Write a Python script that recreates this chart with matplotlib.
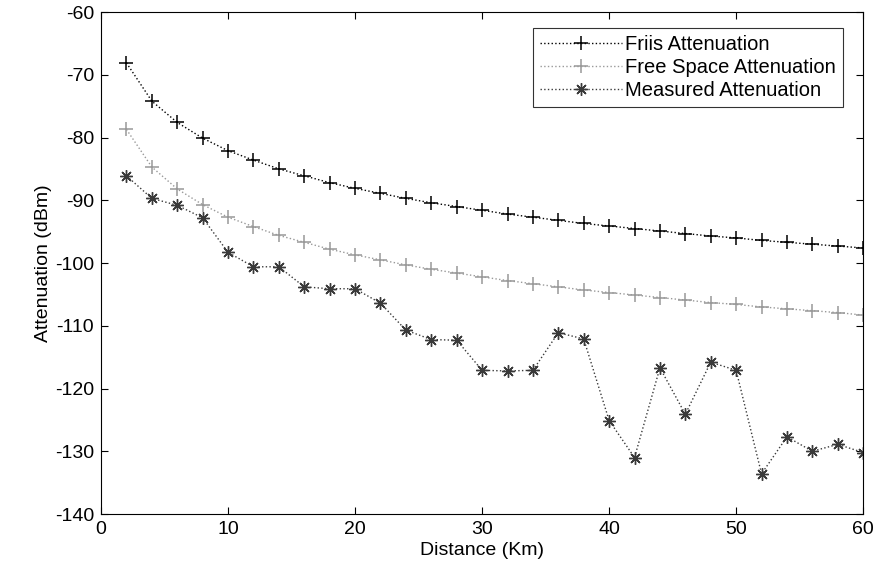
"""Atenuacion frente a distancia"""

import matplotlib
matplotlib.use('Agg')
import matplotlib.pyplot as plt

plt.rcParams['font.family'] = ['Liberation Sans', 'DejaVu Sans']
plt.rcParams['axes.unicode_minus'] = False

distancia = list(range(2, 61, 2))

friis = [-68.1, -74.2, -77.6, -80.1, -82.1, -83.6, -85.0, -86.1, -87.2, -88.1,
         -88.9, -89.7, -90.4, -91.0, -91.6, -92.2, -92.7, -93.2, -93.7, -94.1,
         -94.5, -94.9, -95.3, -95.7, -96.0, -96.4, -96.7, -97.0, -97.3, -97.6]

espacio_libre = [-78.7, -84.7, -88.2, -90.7, -92.7, -94.2, -95.6, -96.7, -97.8, -98.7,
                 -99.5, -100.3, -101.0, -101.6, -102.2, -102.8, -103.3, -103.8, -104.3, -104.7,
                 -105.1, -105.5, -105.9, -106.3, -106.6, -107.0, -107.3, -107.6, -107.9, -108.3]

medida = [-86.1, -89.7, -90.8, -92.8, -98.3, -100.6, -100.6, -103.8, -104.1, -104.1,
          -106.4, -110.7, -112.2, -112.3, -117.1, -117.2, -117.1, -111.1, -112.1, -125.1,
          -131.0, -116.7, -124.1, -115.8, -117.1, -133.6, -127.7, -130.0, -128.9, -130.2]

etiquetas = ['Friis Attenuation', 'Free Space Attenuation', 'Measured Attenuation']

fig = plt.figure(figsize=(8.74, 5.81), dpi=100)
ax = fig.add_axes([0.1156, 0.1153, 0.872, 0.864])

ax.plot(distancia, friis, color='black', linestyle=':', linewidth=1,
        marker='+', markersize=10, markeredgewidth=1.1, label=etiquetas[0])
ax.plot(distancia, espacio_libre, color='#999999', linestyle=':', linewidth=1,
        marker='+', markersize=10, markeredgewidth=1.1, label=etiquetas[1])
ax.plot(distancia, medida, color='#3a3a3a', linestyle=':', linewidth=1,
        marker=(8, 2, 0), markersize=9, markeredgewidth=1.0, label=etiquetas[2])

ax.set_xlim(0, 60)
ax.set_ylim(-140, -60)
ax.set_xticks(range(0, 61, 10))
ax.set_yticks(range(-140, -59, 10))
ax.tick_params(direction='in', top=True, right=True, labelsize=14, length=5, pad=5)
ax.set_xlabel('Distance (Km)', fontsize=14, labelpad=3)
ax.set_ylabel('Attenuation (dBm)', fontsize=14, labelpad=2)

leg = ax.legend(loc='upper right', bbox_to_anchor=(0.9738, 0.969), fontsize=14.5,
                fancybox=False, edgecolor='black', handlelength=4.1,
                borderpad=0.35, labelspacing=0.2, handletextpad=0.15,
                borderaxespad=0)
leg.get_frame().set_linewidth(0.8)

fig.savefig('out.png', dpi=100)
